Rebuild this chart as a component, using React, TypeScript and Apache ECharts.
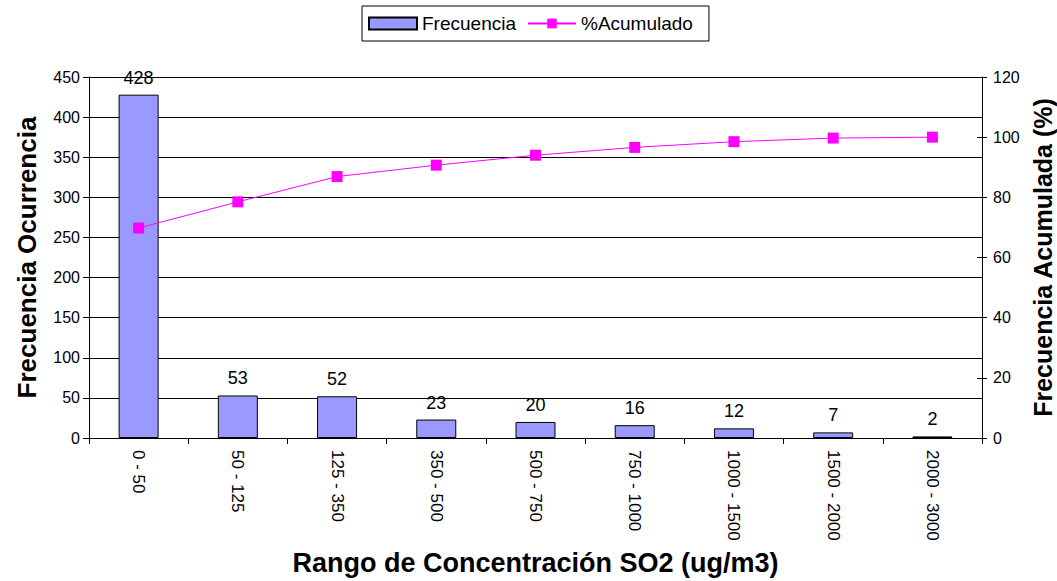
import React, { useEffect, useRef } from "react";
import * as echarts from "echarts";

const categories = ["0 - 50", "50 - 125", "125 - 350", "350 - 500", "500 - 750", "750 - 1000", "1000 - 1500", "1500 - 2000", "2000 - 3000"];
const frecuencia = [428, 53, 52, 23, 20, 16, 12, 7, 2];
const acumulado = [69.8, 78.5, 86.9, 90.7, 94.0, 96.6, 98.5, 99.7, 100];

const FONT = "Liberation Sans, Arial, sans-serif";

export default function App() {
  const ref = useRef<HTMLDivElement>(null);
  useEffect(() => {
    if (!ref.current) return;
    const chart = echarts.init(ref.current, null, { renderer: "svg" });
    chart.setOption({
      animation: false,
      backgroundColor: "#ffffff",
      textStyle: { fontFamily: FONT },
      legend: {
        left: 362,
        top: 6,
        padding: [8, 16, 8, 6],
        borderColor: "#000",
        borderWidth: 1,
        itemGap: 11,
        itemWidth: 48,
        itemHeight: 12,
        textStyle: { fontFamily: FONT, fontSize: 19, color: "#000" },
        data: [
          { name: "Frecuencia", icon: "rect" },
          { name: "%Acumulado" },
        ],
      },
      grid: { left: 89, right: 75, top: 77, bottom: 143, outerBoundsMode: "none", containLabel: false },
      xAxis: {
        type: "category",
        data: categories,
        boundaryGap: true,
        axisLine: { lineStyle: { color: "#000", width: 1 } },
        axisTick: { show: true, length: 6, alignWithLabel: false, lineStyle: { color: "#000" } },
        axisLabel: { rotate: -90, margin: 12, fontFamily: FONT, fontSize: 17, color: "#000" },
        name: "Rango de Concentración SO2 (ug/m3)",
        nameLocation: "middle",
        nameGap: 111,
        nameTextStyle: { fontFamily: FONT, fontSize: 27, fontWeight: "bold", color: "#000" },
      },
      yAxis: [
        {
          type: "value",
          min: 0,
          max: 450,
          interval: 50,
          position: "left",
          axisLine: { show: true, lineStyle: { color: "#000" } },
          axisTick: { show: true, length: 6, lineStyle: { color: "#000" } },
          axisLabel: { fontFamily: FONT, fontSize: 16, color: "#000", margin: 9 },
          splitLine: { show: true, lineStyle: { color: "#000", width: 1 } },
          name: "Frecuencia Ocurrencia",
          nameLocation: "middle",
          nameRotate: 90,
          nameGap: 49,
          nameTextStyle: { fontFamily: FONT, fontSize: 26, fontWeight: "bold", color: "#000" },
        },
        {
          type: "value",
          min: 0,
          max: 120,
          interval: 20,
          position: "right",
          axisLine: { show: true, lineStyle: { color: "#000" } },
          axisTick: { show: true, length: 5, lineStyle: { color: "#000" } },
          axisLabel: { fontFamily: FONT, fontSize: 16, color: "#000", margin: 11 },
          splitLine: { show: false },
          name: "Frecuencia Acumulada (%)",
          nameLocation: "middle",
          nameRotate: 90,
          nameGap: 46,
          nameTextStyle: { fontFamily: FONT, fontSize: 25, fontWeight: "bold", color: "#000" },
        },
        {
          type: "value",
          min: 0,
          max: 120,
          interval: 20,
          position: "right",
          axisLine: { show: false },
          axisTick: { show: true, inside: true, length: 5, lineStyle: { color: "#000" } },
          axisLabel: { show: false },
          splitLine: { show: false },
        },
      ],
      series: [
        {
          name: "Frecuencia",
          type: "bar",
          data: frecuencia,
          yAxisIndex: 0,
          barWidth: 40,
          itemStyle: { color: "#9999ff", borderColor: "#000", borderWidth: 1 },
          label: { show: true, position: "top", distance: 8, fontFamily: FONT, fontSize: 18, color: "#000" },
        },
        {
          name: "%Acumulado",
          type: "line",
          data: acumulado,
          yAxisIndex: 1,
          symbol: "rect",
          symbolSize: 11,
          lineStyle: { color: "#ff00ff", width: 1 },
          itemStyle: { color: "#ff00ff" },
        },
      ],
    });
    return () => chart.dispose();
  }, []);
  return <div ref={ref} style={{ position: "fixed", left: 0, top: 0, width: 1057, height: 581 }} />;
}
